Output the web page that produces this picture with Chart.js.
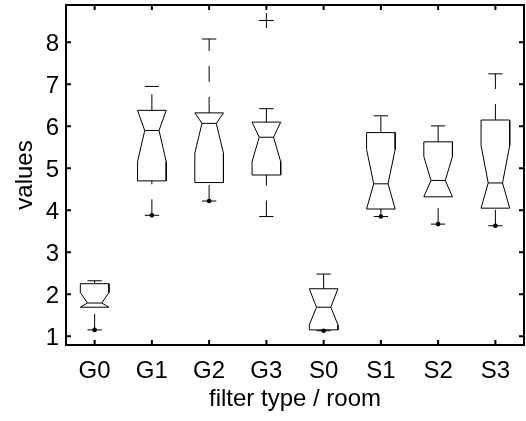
<!DOCTYPE html>
<html><head><meta charset="utf-8">
<script src="https://cdn.jsdelivr.net/npm/chart.js@4.4.0/dist/chart.umd.min.js"></script>
<style>html,body{margin:0;padding:0;background:#fff;}canvas{display:block;}</style>
</head><body>
<canvas id="c" width="526" height="421"></canvas>
<script>
// ---- data ----
const categories  = ['G0','G1','G2','G3','S0','S1','S2','S3'];
const whiskerLow  = [1.15, 3.88, 4.22, 3.85, 1.13, 3.85, 3.67, 3.63];
const quart1      = [1.69, 4.70, 4.66, 4.84, 1.15, 4.03, 4.32, 4.05];
const notchLow    = [1.69, 5.16, 5.36, 5.16, 1.27, 4.03, 4.32, 4.05];
const medians     = [1.79, 5.90, 6.07, 5.74, 1.69, 4.63, 4.71, 4.65];
const notchHigh   = [2.04, 6.38, 6.32, 6.10, 2.13, 5.45, 5.28, 5.54];
const quart3      = [2.25, 6.38, 6.32, 6.10, 2.13, 5.85, 5.63, 6.15];
const whiskerHigh = [2.32, 6.95, 8.08, 6.42, 2.48, 6.25, 6.01, 7.25];
const lowDots     = [1.15, 3.88, 4.22, null, 1.13, 3.85, 3.67, 3.63];
const outliers    = [[], [], [], [8.52], [], [], [], []];
const yTicks      = [1, 2, 3, 4, 5, 6, 7, 8];

// ---- styling constants ----
const boxHalf = 0.25, notchHalf = 0.125, capHalf = 0.125;
const FONT = '"Liberation Sans", Arial, Helvetica, sans-serif';
Chart.defaults.font.family = FONT;
Chart.defaults.font.size = 24;
Chart.defaults.color = '#000';

function lineDs(points, dash) {
  return {
    type: 'scatter', data: points, showLine: true, fill: false, tension: 0,
    borderColor: '#000', borderWidth: 1, pointRadius: 0, pointHoverRadius: 0,
    borderDash: dash || [], spanGaps: false
  };
}

const datasets = [];
categories.forEach((c, i) => {
  const x = i + 1;
  // notched box outline
  datasets.push(lineDs([
    {x: x - boxHalf, y: quart1[i]}, {x: x - boxHalf, y: notchLow[i]},
    {x: x - notchHalf, y: medians[i]}, {x: x - boxHalf, y: notchHigh[i]},
    {x: x - boxHalf, y: quart3[i]}, {x: x + boxHalf, y: quart3[i]},
    {x: x + boxHalf, y: notchHigh[i]}, {x: x + notchHalf, y: medians[i]},
    {x: x + boxHalf, y: notchLow[i]}, {x: x + boxHalf, y: quart1[i]},
    {x: x - boxHalf, y: quart1[i]}
  ]));
  // median
  datasets.push(lineDs([{x: x - notchHalf, y: medians[i]}, {x: x + notchHalf, y: medians[i]}]));
  // whiskers (dashed)
  datasets.push(lineDs([{x: x, y: quart3[i]}, {x: x, y: whiskerHigh[i]}], [16, 15]));
  datasets.push(lineDs([{x: x, y: whiskerLow[i]}, {x: x, y: quart1[i]}], [16, 15]));
  // caps
  datasets.push(lineDs([{x: x - capHalf, y: whiskerHigh[i]}, {x: x + capHalf, y: whiskerHigh[i]}]));
  datasets.push(lineDs([{x: x - capHalf, y: whiskerLow[i]}, {x: x + capHalf, y: whiskerLow[i]}]));
});
// lower-end dots
datasets.push({
  type: 'scatter',
  data: lowDots.map((v, i) => v === null ? null : {x: i + 1, y: v}).filter(p => p),
  pointStyle: 'circle', pointRadius: 2.3, backgroundColor: '#000', borderColor: '#000', borderWidth: 0, showLine: false
});
// outliers
const outPts = [];
outliers.forEach((arr, i) => arr.forEach(v => outPts.push({x: i + 1, y: v})));
datasets.push({
  type: 'scatter', data: outPts, pointStyle: 'cross', pointRadius: 7.5,
  borderColor: '#000', borderWidth: 1, showLine: false
});

const framePlugin = {
  id: 'frame',
  afterDatasetsDraw(chart) {
    const {ctx, chartArea: a, scales: {x, y}} = chart;
    ctx.save();
    ctx.strokeStyle = '#000';
    ctx.lineWidth = 2;
    ctx.strokeRect(a.left, a.top, a.right - a.left, a.bottom - a.top);
    const tl = 5;
    ctx.beginPath();
    x.ticks.forEach(t => {
      const px = x.getPixelForValue(t.value);
      ctx.moveTo(px, a.bottom); ctx.lineTo(px, a.bottom - tl);
      ctx.moveTo(px, a.top); ctx.lineTo(px, a.top + tl);
    });
    y.ticks.forEach(t => {
      const py = y.getPixelForValue(t.value);
      ctx.moveTo(a.left, py); ctx.lineTo(a.left + tl, py);
      ctx.moveTo(a.right, py); ctx.lineTo(a.right - tl, py);
    });
    ctx.stroke();
    ctx.restore();
  }
};

function zeroPad(s) { s.paddingTop = 0; s.paddingBottom = 0; s.paddingLeft = 0; s.paddingRight = 0; }

new Chart(document.getElementById('c'), {
  type: 'scatter',
  data: {datasets},
  options: {
    responsive: false, animation: false, devicePixelRatio: 1,
    events: [],
    layout: {autoPadding: false, padding: {top: 5, right: 2, left: 0, bottom: 0}},
    plugins: {legend: {display: false}, tooltip: {enabled: false}},
    scales: {
      x: {
        type: 'linear', min: 0.5, max: 8.5,
        grid: {display: false, drawTicks: false, tickLength: 0},
        border: {display: false},
        afterBuildTicks: s => { s.ticks = categories.map((c, i) => ({value: i + 1})); },
        afterFit: s => { s.height = 76; zeroPad(s); },
        ticks: {
          autoSkip: false, maxRotation: 0, minRotation: 0, padding: 12,
          callback: v => categories[Math.round(v) - 1]
        },
        title: {display: true, text: 'filter type / room', padding: {top: 0, bottom: 7.4}}
      },
      y: {
        type: 'linear', min: 0.79, max: 8.89,
        grid: {display: false, drawTicks: false, tickLength: 0},
        border: {display: false},
        afterBuildTicks: s => { s.ticks = yTicks.map(v => ({value: v})); },
        afterFit: s => { s.width = 66; zeroPad(s); },
        ticks: {padding: 7, labelOffset: 2, callback: v => String(v)},
        title: {display: true, text: 'values', padding: {top: 10.6, bottom: 0}}
      }
    }
  },
  plugins: [framePlugin]
});
</script>
</body></html>
